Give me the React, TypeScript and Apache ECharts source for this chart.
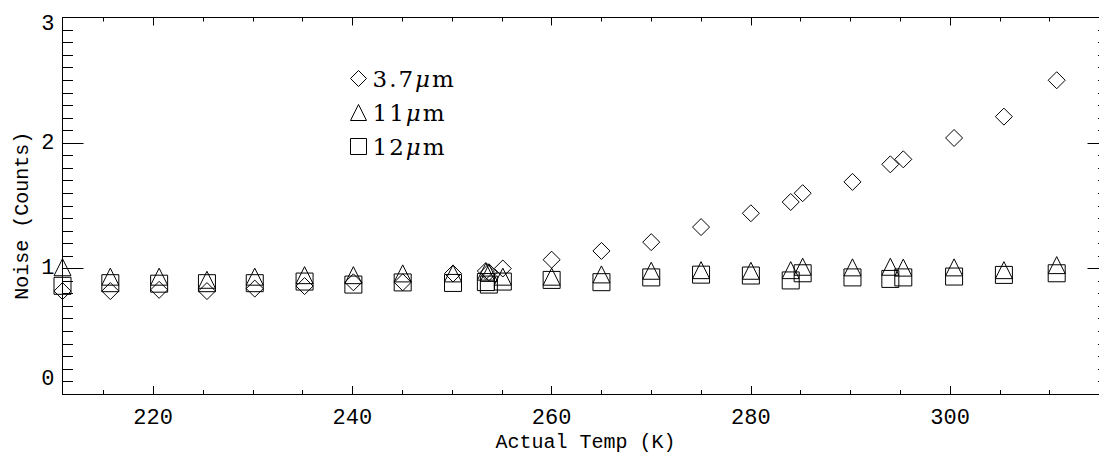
import React, { useEffect, useRef } from "react";
import * as echarts from "echarts";

// Detector temperature (K) for each measurement
const temps = [
  210.9, 215.7, 220.6, 225.4, 230.2, 235.2, 240.1, 245.05, 250.1, 253.4,
  253.7, 255.1, 260.0, 265.0, 270.0, 275.0, 280.0, 284.0, 285.2, 290.2,
  294.0, 295.3, 300.4, 305.4, 310.7,
];

// Noise in counts per channel
const noise37 = [
  0.82, 0.82, 0.83, 0.82, 0.84, 0.86, 0.89, 0.89, 0.96, 0.98,
  0.97, 1.0, 1.07, 1.14, 1.21, 1.33, 1.44, 1.53, 1.6, 1.69,
  1.83, 1.87, 2.04, 2.21, 2.5,
];
const noise11 = [
  1.01, 0.935, 0.935, 0.91, 0.935, 0.947, 0.947, 0.961, 0.961, 0.975,
  0.965, 0.935, 0.935, 0.953, 0.982, 0.987, 0.982, 0.987, 1.014, 1.009,
  1.014, 1.007, 1.009, 0.987, 1.027,
];
const noise12 = [
  0.862, 0.883, 0.879, 0.883, 0.883, 0.896, 0.872, 0.889, 0.885, 0.892,
  0.872, 0.896, 0.909, 0.891, 0.929, 0.951, 0.944, 0.905, 0.962, 0.929,
  0.917, 0.929, 0.936, 0.949, 0.962,
];

const seriesNames = ["3.7μm", "11μm", "12μm"];
const seriesSymbols = ["diamond", "triangle", "rect"];
const seriesValues = [noise37, noise11, noise12];

// Axis ranges and tick positions
const X_MIN = 210.9;
const X_MAX = 315.9;
const xMajorTicks = [220, 240, 260, 280, 300];
const xMinorTicks = [215, 225, 230, 235, 245, 250, 255, 265, 270, 275, 285, 290, 295, 305, 310, 315];
const Y_MIN = 0;
const Y_MAX = 3;

const AXIS_FONT = "Liberation Mono";
const LEGEND_FONT = "DejaVu Serif";

// The plot frame runs a little past the right edge of the visible area
const VIEW_W = 1099;
const VIEW_H = 452;
const CHART_W = 1120;

function legendLabel(name: string): string {
  return name
    .split("")
    .map((c) => (c === "μ" ? `{mu|μ}` : `{d|${c}}`))
    .join("");
}

export default function App() {
  const ref = useRef<HTMLDivElement>(null);

  useEffect(() => {
    if (!ref.current) return;
    const chart = echarts.init(ref.current, undefined, { renderer: "svg" });

    const black = "#000";
    const line = { show: true, lineStyle: { color: black, width: 1 } };

    const xBase = {
      type: "value" as const,
      min: X_MIN,
      max: X_MAX,
      splitLine: { show: false },
    };

    const yBase = {
      type: "value" as const,
      min: Y_MIN,
      max: Y_MAX,
      interval: 1,
      splitLine: { show: false },
      minorSplitLine: { show: false },
    };

    const option: any = {
      animation: false,
      backgroundColor: "#fff",
      grid: {
        left: 62.5,
        right: CHART_W - 1108.5,
        top: 17.5,
        bottom: 58,
        containLabel: false,
        outerBoundsMode: "none",
      },
      legend: {
        orient: "vertical",
        left: 345,
        top: 62,
        itemWidth: 16,
        itemHeight: 16,
        itemGap: 11,
        data: seriesNames,
        itemStyle: { borderWidth: 1, borderColor: black, color: "transparent" },
        formatter: (name: string) => legendLabel(name),
        textStyle: {
          color: black,
          rich: {
            d: { fontFamily: LEGEND_FONT, fontSize: 23, color: black, padding: [0, 1, 0, 1], lineHeight: 25 },
            mu: {
              fontFamily: LEGEND_FONT,
              fontSize: 23,
              fontStyle: "italic",
              color: black,
              padding: [0, 1, 0, 1],
              lineHeight: 25,
            },
          },
        },
      },
      xAxis: [
        {
          ...xBase,
          position: "bottom",
          axisLine: line,
          axisTick: { show: true, inside: true, length: 8, customValues: xMajorTicks, lineStyle: { color: black } },
          axisLabel: {
            show: true,
            customValues: xMajorTicks,
            margin: 14,
            color: black,
            fontFamily: AXIS_FONT,
            fontSize: 22,
            lineHeight: 20,
          },
          name: "Actual Temp (K)",
          nameLocation: "middle",
          nameGap: 39,
          nameMoveOverlap: false,
          nameTextStyle: { color: black, fontFamily: AXIS_FONT, fontSize: 20, lineHeight: 18 },
        },
        {
          ...xBase,
          position: "bottom",
          axisLine: { show: false },
          axisTick: { show: true, inside: true, length: 4, customValues: xMinorTicks, lineStyle: { color: black } },
          axisLabel: { show: false },
        },
        {
          ...xBase,
          position: "top",
          axisLine: line,
          axisTick: { show: true, inside: true, length: 8, customValues: xMajorTicks, lineStyle: { color: black } },
          axisLabel: { show: false },
        },
        {
          ...xBase,
          position: "top",
          axisLine: { show: false },
          axisTick: { show: true, inside: true, length: 4, customValues: xMinorTicks, lineStyle: { color: black } },
          axisLabel: { show: false },
        },
      ],
      yAxis: [
        {
          ...yBase,
          position: "left",
          axisLine: line,
          axisTick: { show: true, inside: true, length: 21, lineStyle: { color: black } },
          minorTick: { show: true, splitNumber: 10, length: 10.5, lineStyle: { color: black } },
          axisLabel: {
            show: true,
            margin: 8,
            color: black,
            fontFamily: AXIS_FONT,
            fontSize: 22,
            formatter: (v: number) => (v === Y_MIN ? `{lo|${v}}` : v === Y_MAX ? `{hi|${v}}` : `{n|${v}}`),
            rich: {
              n: { fontFamily: AXIS_FONT, fontSize: 22, color: black },
              lo: { fontFamily: AXIS_FONT, fontSize: 22, color: black, padding: [0, 0, 30, 0] },
              hi: { fontFamily: AXIS_FONT, fontSize: 22, color: black, padding: [14, 0, 0, 0] },
            },
          },
          name: "Noise (Counts)",
          nameLocation: "middle",
          nameGap: 30,
          nameMoveOverlap: false,
          nameTextStyle: { color: black, fontFamily: AXIS_FONT, fontSize: 20, padding: [0, 20, 0, 0] },
        },
        {
          ...yBase,
          position: "right",
          axisLine: line,
          axisTick: { show: true, inside: true, length: 21, lineStyle: { color: black } },
          minorTick: { show: true, splitNumber: 10, length: 10.5, lineStyle: { color: black } },
          axisLabel: { show: false },
        },
      ],
      series: seriesNames.map((name, i) => ({
        name,
        type: "scatter",
        xAxisIndex: 0,
        yAxisIndex: 0,
        symbol: seriesSymbols[i],
        symbolSize: 17,
        clip: false,
        itemStyle: { color: "transparent", borderColor: black, borderWidth: 1, opacity: 1 },
        emphasis: { disabled: true },
        data: temps.map((t, k) => [t, seriesValues[i][k]]),
      })),
    };

    chart.setOption(option);
    return () => chart.dispose();
  }, []);

  return (
    <div
      style={{
        position: "fixed",
        left: 0,
        top: 0,
        width: VIEW_W,
        height: VIEW_H,
        overflow: "hidden",
        background: "#fff",
      }}
    >
      <div ref={ref} style={{ width: CHART_W, height: VIEW_H }} />
    </div>
  );
}
